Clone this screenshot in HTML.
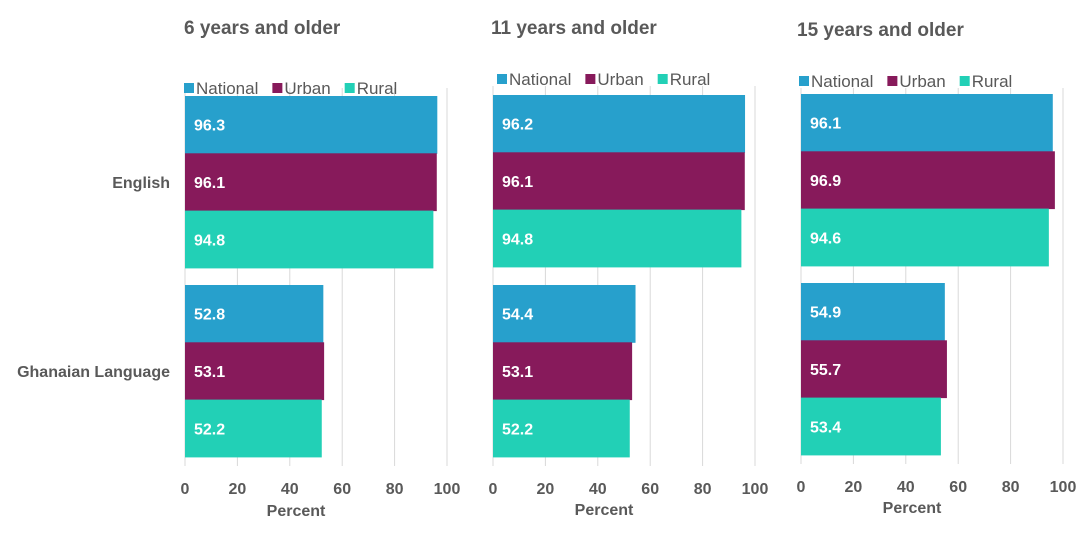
<!DOCTYPE html>
<html><head><meta charset="utf-8"><style>
body{margin:0;background:#fff;width:1091px;height:536px;overflow:hidden;font-family:"Liberation Sans",sans-serif;}
svg text{font-family:"Liberation Sans",sans-serif;}
</style></head><body>
<svg id="chart" width="1091" height="536" xmlns="http://www.w3.org/2000/svg"></svg>
<script>
const categories = ["English", "Ghanaian Language"];
const seriesNames = ["National", "Urban", "Rural"];
const panelTitles = ["6 years and older", "11 years and older", "15 years and older"];
const panel1Values = [[96.3, 96.1, 94.8], [52.8, 53.1, 52.2]];
const panel2Values = [[96.2, 96.1, 94.8], [54.4, 53.1, 52.2]];
const panel3Values = [[96.1, 96.9, 94.6], [54.9, 55.7, 53.4]];
const ticks = [0, 20, 40, 60, 80, 100];

const colors = ["#27a0cc", "#871a5b", "#22d0b6"];
const panels = [
  {x0:185, x1:447, groupTops:[96,285], barH:57.3, gridTop:88, gridBottom:466, legendY:94, legendX:184, titleY:34, titleX:184, vals:panel1Values, tickY:494, axisTitleY:516, showCats:true},
  {x0:493, x1:755, groupTops:[95,285], barH:57.3, gridTop:86, gridBottom:466, legendY:85, legendX:497, titleY:34, titleX:491, vals:panel2Values, tickY:494, axisTitleY:515, showCats:false},
  {x0:801, x1:1063, groupTops:[94,283], barH:57.3, gridTop:88, gridBottom:464, legendY:87, legendX:799, titleY:36, titleX:797, vals:panel3Values, tickY:492, axisTitleY:513, showCats:false}
];
const svg = document.getElementById('chart');
const NS = "http://www.w3.org/2000/svg";
function mk(tag, attrs, parent){const e=document.createElementNS(NS,tag);for(const k in attrs)e.setAttribute(k,attrs[k]);(parent||svg).appendChild(e);return e;}

panels.forEach((p, pi) => {
  const g = mk('g', {});
  
  
  const xs = v => p.x0 + (p.x1 - p.x0) * v / 100;
  const t = mk('text', {x:p.titleX, y:p.titleY, 'font-size':19, 'font-weight':'bold', fill:'#595959'}, g);
  t.textContent = panelTitles[pi];
  
  
  ticks.forEach(tv => {
    const l = mk('line', {x1:xs(tv), x2:xs(tv), y1:p.gridTop, y2:p.gridBottom, stroke:'#d9d9d9', 'stroke-width':1}, g);
    
    
    const tt = mk('text', {x:xs(tv), y:p.tickY, 'font-size':16, 'font-weight':'bold', fill:'#595959', 'text-anchor':'middle'}, g);
    tt.textContent = tv;
    
    
  });
  const at = mk('text', {x:(p.x0+p.x1)/2 - 20, y:p.axisTitleY, 'font-size':16, 'font-weight':'bold', fill:'#595959', 'text-anchor':'middle'}, g);
  at.textContent = 'Percent';
  
  
  let lx = p.legendX;
  seriesNames.forEach((s, si) => {
    const r = mk('rect', {x:lx, y:p.legendY-11, width:10, height:10, fill:colors[si]}, g);
    
    
    const lt = mk('text', {x:lx+12, y:p.legendY, 'font-size':17, fill:'#595959'}, g);
    lt.textContent = s;
    
    
    lx += 12 + lt.getComputedTextLength() + 14;
  });
  categories.forEach((c, ci) => {
    p.vals[ci].forEach((v, si) => {
      const y = p.groupTops[ci] + si * p.barH;
      const b = mk('rect', {x:p.x0, y:y, width:xs(v)-p.x0, height:p.barH+0.5, fill:colors[si]}, g);
      
      
      const vt = mk('text', {x:p.x0+9, y:y+p.barH/2+6, 'font-size':16, 'font-weight':'bold', fill:'#fff'}, g);
      vt.textContent = v.toFixed(1);
      
      
    });
    if (p.showCats) {
      const ct = mk('text', {x:p.x0-15, y:p.groupTops[ci] + 1.5*p.barH + 6, 'font-size':16, 'font-weight':'bold', fill:'#595959', 'text-anchor':'end'}, g);
      ct.textContent = c;
      
      
    }
  });
});
</script>
</body></html>
